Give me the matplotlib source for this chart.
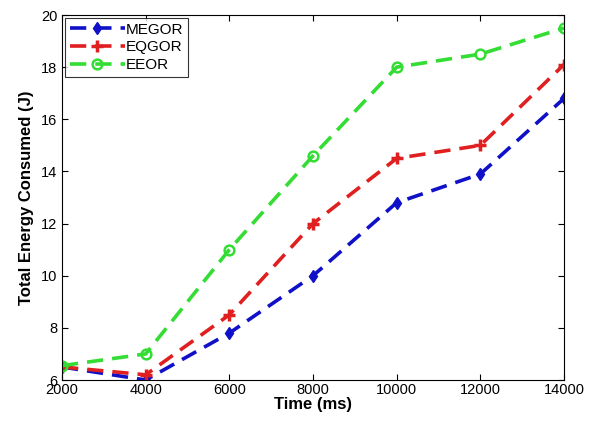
import matplotlib
matplotlib.use('Agg')
import matplotlib.pyplot as plt

time_ms = [2000, 4000, 6000, 8000, 10000, 12000, 14000]
megor = [6.5, 6.0, 7.8, 10.0, 12.8, 13.9, 16.8]
eqgor = [6.5, 6.2, 8.5, 12.0, 14.5, 15.0, 18.1]
eeor = [6.55, 7.0, 11.0, 14.6, 18.0, 18.5, 19.5]

plt.rcParams['font.family'] = ['Liberation Sans', 'DejaVu Sans']

fig = plt.figure(figsize=(5.9, 4.22), dpi=100, facecolor='white')
ax = fig.add_axes([62/590, 1 - 380/422, (564-62)/590, (380-15)/422])

dash = (0, (4.5, 2.5))
ax.plot(time_ms, megor, color='#1010c8', ls=dash, lw=2.6,
        marker='d', ms=6, label='MEGOR')
ax.plot(time_ms, eqgor, color='#e02020', ls=dash, lw=2.6,
        marker='+', ms=8, mew=2.5, label='EQGOR')
ax.plot(time_ms, eeor, color='#33dd33', ls=dash, lw=2.6,
        marker='o', ms=7, mfc='none', mew=1.8, label='EEOR')

ax.set_xlim(2000, 14000)
ax.set_ylim(6, 20)
ax.set_xticks(time_ms)
ax.set_yticks(range(6, 21, 2))
ax.tick_params(direction='in', top=True, right=True, labelsize=10.5, length=4)
ax.tick_params(axis='x', pad=2)
ax.set_xlabel('Time (ms)', fontsize=12, fontweight='bold', labelpad=0)
ax.set_ylabel('Total Energy Consumed (J)', fontsize=12, fontweight='bold', labelpad=5)
for s in ax.spines.values():
    s.set_linewidth(0.8)

leg = ax.legend(loc='upper left', fontsize=11, frameon=True, fancybox=False,
                edgecolor='black', borderpad=0.3, labelspacing=0.25,
                handlelength=3.6, handletextpad=0.1, borderaxespad=0.2)
leg.get_frame().set_linewidth(0.8)

plt.savefig('out.png', dpi=100, facecolor='white')
